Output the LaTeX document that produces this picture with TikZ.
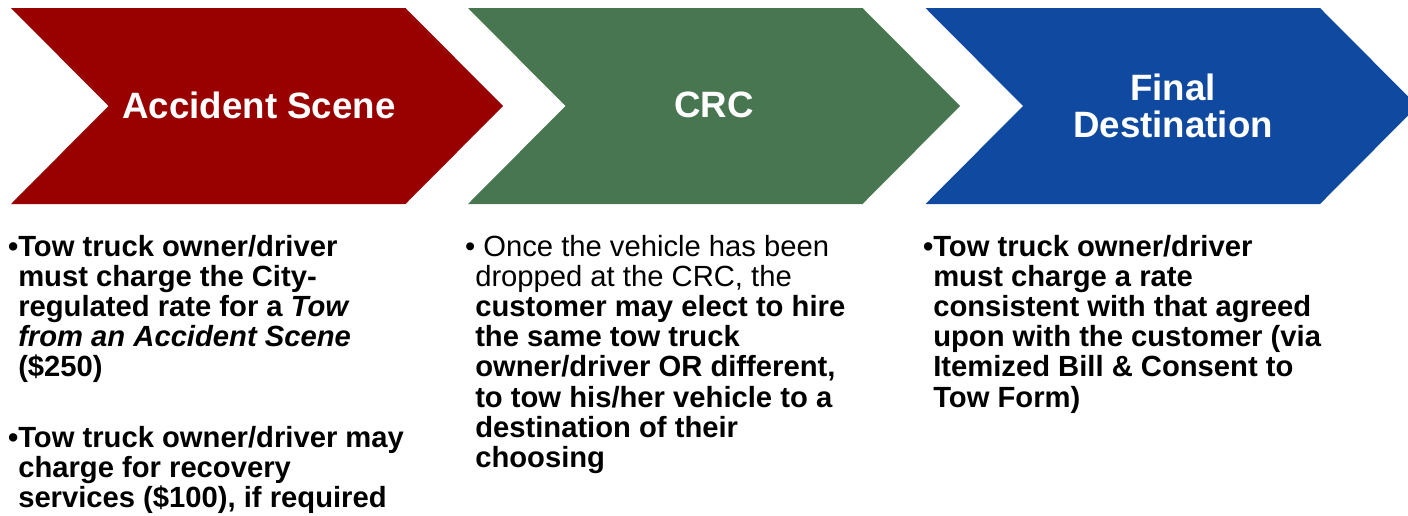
\documentclass[tikz,border=0pt]{standalone}
\usepackage{xcolor}
\usepackage{fontspec}
\setmainfont{Liberation Sans}
\usepackage{tikz}

\definecolor{sceneRed}{HTML}{990000}
\definecolor{crcGreen}{HTML}{477650}
\definecolor{destBlue}{HTML}{0F4AA0}

\tikzset{
    phasetitle/.style={text=white, align=center, inner sep=0pt,
        font=\bfseries\fontsize{27.5}{27.75}\selectfont},
    phasenote/.style={anchor=north west, align=left, inner sep=0pt,
        font=\bfseries\fontsize{21.9}{22.6}\selectfont}
}

\begin{document}
\begin{tikzpicture}[x=0.75pt, y=-0.75pt]
    \useasboundingbox (0,0) rectangle (1408,515);
    \clip (0,0) rectangle (1408,515);

    \fill[sceneRed] (11,8) -- (405.5,8) -- (503,106) -- (405.5,204) -- (11,204) -- (108.5,106) -- cycle;
    \fill[crcGreen] (468,8) -- (862.5,8) -- (960,106) -- (862.5,204) -- (468,204) -- (565.5,106) -- cycle;
    \fill[destBlue] (925.5,8) -- (1320,8) -- (1417.5,106) -- (1320,204) -- (925.5,204) -- (1023,106) -- cycle;

    \node[phasetitle] (acc) at (259,105) {Accident Scene};
    \node[phasetitle] (crc) at (714,105) {CRC};
    \node[phasetitle] (dest) at (1173,106) {Final\\Destination};

    \node[phasenote] (accnote) at (18,235)
        {\llap{•}Tow truck owner/driver\\
         must charge the City-\\
         regulated rate for a \textit{Tow}\\
         \textit{from an Accident Scene}\\
         (\$250)};
    \node[phasenote] (accnote2) at (18,426)
        {\llap{•}Tow truck owner/driver may\\
         charge for recovery\\
         services (\$100), if required};
    \node[phasenote] (crcnote) at (475,235)
        {\llap{\mdseries•}\ \mdseries Once the vehicle has been\\
         \mdseries dropped at the CRC, the\\
         customer may elect to hire\\
         the same tow truck\\
         owner/driver OR different,\\
         to tow his/her vehicle to a\\
         destination of their\\
         choosing};
    \node[phasenote] (destnote) at (933,235)
        {\llap{•}Tow truck owner/driver\\
         must charge a rate\\
         consistent with that agreed\\
         upon with the customer (via\\
         Itemized Bill \& Consent to\\
         Tow Form)};
\end{tikzpicture}
\end{document}
